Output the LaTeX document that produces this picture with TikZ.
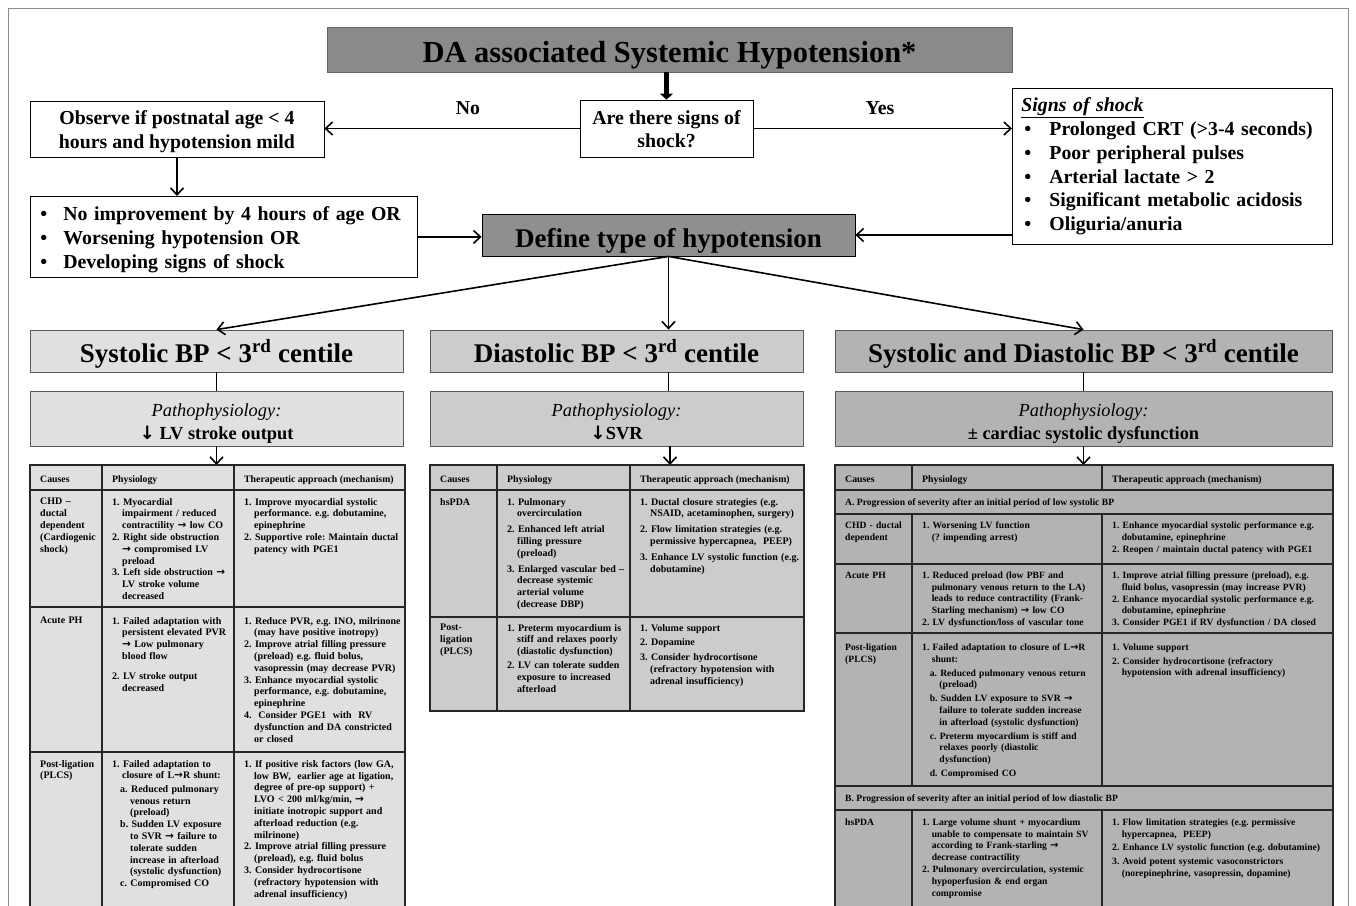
\documentclass[tikz,border=0pt]{standalone}
\usepackage{fontspec}
\setmainfont{Liberation Serif}
\newfontfamily\arrfont{DejaVu Sans}
\usetikzlibrary{arrows.meta}
\frenchspacing
\definecolor{titlegray}{HTML}{8A8A8A}
\definecolor{defgray}{HTML}{8F8F8F}
\definecolor{cA}{HTML}{E0E0E0}
\definecolor{cB}{HTML}{CCCCCC}
\definecolor{cC}{HTML}{B3B3B3}
\newcommand{\NL}{\unskip\hfil\break}
\newcommand{\ra}{{\arrfont\bfseries\fontsize{1.05em}{0pt}\selectfont →}}
\newcommand{\da}{{\arrfont\bfseries ↓}}
\newcommand{\Lf}{\noindent\leftskip=0pt\hangindent=1em\hangafter=1\ignorespaces}
\newcommand{\Li}[1][0pt]{\par\ifdim#1>0pt\vspace{#1}\fi\noindent\leftskip=0pt\hangindent=1em\hangafter=1\ignorespaces}
\newcommand{\Lii}[1][0pt]{\par\ifdim#1>0pt\vspace{#1}\fi\noindent\leftskip=0.8em\hangindent=1em\hangafter=1\ignorespaces}
\begin{document}
\begin{tikzpicture}[x=1pt,y=-1pt,
  tb/.style={draw=black, line width=0.8pt, fill=white, align=center, inner sep=0pt, font=\fontsize{19.8}{23.7}\selectfont\bfseries\frenchspacing},
  hb/.style={draw=black!65, line width=0.8pt, align=center, inner sep=0pt, minimum height=42, text height=28pt, text depth=6pt, font=\fontsize{27}{30}\selectfont\bfseries},
  pb/.style={draw=black!65, line width=0.8pt, align=center, inner sep=0pt, minimum height=55, font=\fontsize{18.4}{23}\selectfont\bfseries},
  lbl/.style={inner sep=0pt, font=\fontsize{19.8}{23.7}\selectfont\bfseries},
  arr/.style={line width=1.6pt, -{Straight Barb[length=7pt,width=13pt]}},
  ln/.style={line width=1.6pt},
  tl/.style={line width=1.5pt, black!85},
  cellL/.style={anchor=north west, inner sep=0pt, text width=300pt, align=left, font=\fontsize{10}{11.8}\selectfont\bfseries\frenchspacing},
  cellR/.style={cellL, font=\fontsize{9.6}{11.8}\selectfont\bfseries\frenchspacing},
  cellH/.style={anchor=base west, inner sep=0pt, font=\fontsize{9.8}{11.8}\selectfont\bfseries},
  cellS/.style={anchor=base west, inner sep=0pt, font=\fontsize{9.6}{11.8}\selectfont\bfseries\frenchspacing},
]
\useasboundingbox (0,0) rectangle (1356,905);
\fill[white] (0,0) rectangle (1356,905);
% outer frame
\draw[black!45, line width=0.8pt] (8,920) -- (8,8) -- (1348,8) -- (1348,920);

% ---------- top flow ----------
\node[tb, fill=titlegray, draw=black!60, minimum width=685, minimum height=45, text height=32pt, text depth=7pt, font=\fontsize{30.5}{34}\selectfont\bfseries] (title) at (669.5,49.5) {DA associated Systemic Hypotension*};
\node[tb, minimum width=173, minimum height=57] (q) at (666.5,128.5) {\rule{0pt}{15.5pt}Are there signs of\\shock?};
\node[tb, minimum width=294, minimum height=56] (obs) at (177,129) {\rule{0pt}{19.5pt}Observe if postnatal age < 4\\hours and hypotension mild};
\node[tb, anchor=north west, align=left, text width=302, inner xsep=9pt, minimum height=156] (signs) at (1012,88)
  {\underline{\textit{Signs of shock}}\\
   \hspace*{3pt}\makebox[25pt][l]{•}Prolonged CRT (>3-4 seconds)\\
   \hspace*{3pt}\makebox[25pt][l]{•}Poor peripheral pulses\\
   \hspace*{3pt}\makebox[25pt][l]{•}Arterial lactate > 2\\
   \hspace*{3pt}\makebox[25pt][l]{•}Significant metabolic acidosis\\
   \hspace*{3pt}\makebox[25pt][l]{•}Oliguria/anuria};
\node[tb, anchor=north west, align=left, text width=369, inner xsep=9pt, minimum height=81] (bul) at (30,196)
  {\rule{0pt}{19.5pt}\hspace*{1pt}\makebox[23pt][l]{•}No improvement by 4 hours of age OR\\
   \hspace*{1pt}\makebox[23pt][l]{•}Worsening hypotension OR\\
   \hspace*{1pt}\makebox[23pt][l]{•}Developing signs of shock};
\node[tb, fill=defgray, minimum width=373, minimum height=42, text height=30pt, text depth=6pt, font=\fontsize{27}{30}\selectfont\bfseries] (def) at (668.5,235) {Define type of hypotension};

\node[lbl] (no) at (468,108) {No};
\node[lbl] (yes) at (880,108) {Yes};

\draw[line width=5pt, -{Triangle[length=6pt,width=13pt]}] (q.north |- title.south) -- (q.north);
\draw[arr] (q.west) -- (q.west -| obs.east);
\draw[arr] (q.east) -- (q.east -| signs.west);
\draw[arr] (obs.south) -- (obs.south |- bul.north);
\draw[arr] (bul.east) -- (bul.east -| def.west);
\draw[arr] (signs.west |- def.east) -- (def.east);

% ---------- column headers ----------
\node[hb, fill=cA, minimum width=373] (h1) at (216.5,351) {Systolic BP < 3\textsuperscript{rd} centile};
\node[hb, fill=cB, minimum width=373] (h2) at (616.5,351) {Diastolic BP < 3\textsuperscript{rd} centile};
\node[hb, fill=cC, minimum width=497] (h3) at (1083.5,351) {Systolic and Diastolic BP < 3\textsuperscript{rd} centile};

\node[pb, fill=cA, minimum width=373] (p1) at (216.5,418.5) {\rule{0pt}{22pt}{\mdseries\itshape Pathophysiology:}\\\da\ LV stroke output\vphantom{y}};
\node[pb, fill=cB, minimum width=373] (p2) at (616.5,418.5) {\rule{0pt}{22pt}{\mdseries\itshape Pathophysiology:}\\\da SVR\vphantom{y}};
\node[pb, fill=cC, minimum width=497] (p3) at (1083.5,418.5) {\rule{0pt}{22pt}{\mdseries\itshape Pathophysiology:}\\± cardiac systolic dysfunction\vphantom{y}};

\draw[arr] (def.south) -- (h1.north);
\draw[arr] (def.south) -- (def.south |- h2.north);
\draw[arr] (def.south) -- (h3.north);
\draw[ln] (h1.south) -- (p1.north);
\draw[ln] (def.south |- h2.south) -- (def.south |- p2.north);
\draw[ln] (h3.south) -- (p3.north);

\coordinate (t1) at (216.5,465);
\coordinate (t2) at (670,465);
\coordinate (t3) at (1083.5,465);
\draw[arr] (p1.south) -- (t1);
\draw[arr] (p2.south -| t2) -- (t2);
\draw[arr] (p3.south) -- (t3);

% ---------- left table ----------
\fill[cA] (30,465) rectangle (405,920);
\draw[tl] (30,920) -- (30,465) -- (405,465) -- (405,920);
\draw[tl] (30,490) -- (405,490);
\draw[tl] (30,607) -- (405,607);
\draw[tl] (30,752) -- (405,752);
\draw[tl] (102,465) -- (102,920);
\draw[tl] (234,465) -- (234,920);

\node[cellH] (l0c) at (40,482) {Causes};
\node[cellH] (l0p) at (112,482) {Physiology};
\node[cellH] (l0t) at (244,482) {Therapeutic approach (mechanism)};

\node[cellL] (l1c) at (40,498) {CHD –\NL ductal\NL dependent\NL (Cardiogenic\NL shock)};
\node[cellL] (l1p) at (112,498) {\Lf 1. Myocardial\NL impairment / reduced\NL contractility \ra\ low CO
 \Li 2. Right side obstruction\NL \ra\ compromised LV\NL preload
 \Li 3. Left side obstruction \ra\NL LV stroke volume\NL decreased\par};
\node[cellL] (l1t) at (244,498) {\Lf 1. Improve myocardial systolic\NL performance. e.g. dobutamine,\NL epinephrine
 \Li 2. Supportive role: Maintain ductal\NL patency with PGE1\par};

\node[cellL] (l2c) at (40,617) {Acute PH};
\node[cellL] (l2p) at (112,617) {\Lf 1. Failed adaptation with\NL persistent elevated PVR\NL \ra\ Low pulmonary\NL blood flow
 \Li[8.5pt] 2. LV stroke output\NL decreased\par};
\node[cellL] (l2t) at (244,617) {\Lf 1. Reduce PVR, e.g. INO, milrinone\NL (may have positive inotropy)
 \Li 2. Improve atrial filling pressure\NL (preload) e.g. fluid bolus,\NL vasopressin (may decrease PVR)
 \Li 3. Enhance myocardial systolic\NL performance, e.g. dobutamine,\NL epinephrine
 \Li 4.\ \ Consider PGE1\ \ with\ \ RV\NL dysfunction and DA constricted\NL or closed\par};

\node[cellL] (l3c) at (40,760) {Post-ligation\NL (PLCS)};
\node[cellL] (l3p) at (112,760) {\Lf 1. Failed adaptation to\NL closure of L\ra R shunt:
 \Lii[1.5pt] a. Reduced pulmonary\NL venous return\NL (preload)
 \Lii b. Sudden LV exposure\NL to SVR \ra\ failure to\NL tolerate sudden\NL increase in afterload\NL (systolic dysfunction)
 \Lii c. Compromised CO\par};
\node[cellL] (l3t) at (244,760) {\Lf 1. If positive risk factors (low GA,\NL low BW,\ \ earlier age at ligation,\NL degree of pre-op support) +\NL LVO < 200 ml/kg/min, \ra\NL initiate inotropic support and\NL afterload reduction (e.g.\NL milrinone)
 \Li 2. Improve atrial filling pressure\NL (preload), e.g. fluid bolus
 \Li 3. Consider hydrocortisone\NL (refractory hypotension with\NL adrenal insufficiency)\par};

% ---------- middle table ----------
\fill[cB] (430,465) rectangle (804,711);
\draw[tl] (430,465) rectangle (804,711);
\draw[tl] (430,490) -- (804,490);
\draw[tl] (430,617) -- (804,617);
\draw[tl] (497,465) -- (497,711);
\draw[tl] (630,465) -- (630,711);

\node[cellH] (m0c) at (440,482) {Causes};
\node[cellH] (m0p) at (507,482) {Physiology};
\node[cellH] (m0t) at (640,482) {Therapeutic approach (mechanism)};

\node[cellL] (m1c) at (440,498) {hsPDA};
\node[cellL] (m1p) at (507,498) {\Lf 1. Pulmonary\NL overcirculation
 \Li[4pt] 2. Enhanced left atrial\NL filling pressure\NL (preload)
 \Li[4pt] 3. Enlarged vascular bed –\NL decrease systemic\NL arterial volume\NL (decrease DBP)\par};
\node[cellL] (m1t) at (640,498) {\Lf 1. Ductal closure strategies (e.g.\NL NSAID, acetaminophen, surgery)
 \Li[4pt] 2. Flow limitation strategies (e.g.\NL permissive hypercapnea,\ \ PEEP)
 \Li[4pt] 3. Enhance LV systolic function (e.g.\NL dobutamine)\par};

\node[cellL] (m2c) at (440,624) {Post-\NL ligation\NL (PLCS)};
\node[cellL] (m2p) at (507,624) {\Lf 1. Preterm myocardium is\NL stiff and relaxes poorly\NL (diastolic dysfunction)
 \Li[2pt] 2. LV can tolerate sudden\NL exposure to increased\NL afterload\par};
\node[cellL] (m2t) at (640,624) {\Lf 1. Volume support
 \Li[3pt] 2. Dopamine
 \Li[3pt] 3. Consider hydrocortisone\NL (refractory hypotension with\NL adrenal insufficiency)\par};

% ---------- right table ----------
\fill[cC] (835,465) rectangle (1333,920);
\draw[tl] (835,920) -- (835,465) -- (1333,465) -- (1333,920);
\foreach \yy in {490,514,564,633,786,810} \draw[tl] (835,\yy) -- (1333,\yy);
\foreach \xx in {912,1102} {
  \draw[tl] (\xx,465) -- (\xx,490);
  \draw[tl] (\xx,514) -- (\xx,786);
  \draw[tl] (\xx,810) -- (\xx,920);
}

\node[cellH] (r0c) at (845,482) {Causes};
\node[cellH] (r0p) at (922,482) {Physiology};
\node[cellH] (r0t) at (1112,482) {Therapeutic approach (mechanism)};

\node[cellS] (rA) at (845,505.5) {A. Progression of severity after an initial period of low systolic BP};

\node[cellR] (r1c) at (845,521.5) {CHD - ductal\NL dependent};
\node[cellR] (r1p) at (922,521.5) {\Lf 1. Worsening LV function\NL (? impending arrest)\par};
\node[cellR] (r1t) at (1112,521.5) {\Lf 1. Enhance myocardial systolic performance e.g.\NL dobutamine, epinephrine
 \Li 2. Reopen / maintain ductal patency with PGE1\par};

\node[cellR] (r2c) at (845,571.5) {Acute PH};
\node[cellR] (r2p) at (922,571.5) {\Lf 1. Reduced preload (low PBF and\NL pulmonary venous return to the LA)\NL leads to reduce contractility (Frank-\NL Starling mechanism) \ra\ low CO
 \Li 2. LV dysfunction/loss of vascular tone\par};
\node[cellR] (r2t) at (1112,571.5) {\Lf 1. Improve atrial filling pressure (preload), e.g.\NL fluid bolus, vasopressin (may increase PVR)
 \Li 2. Enhance myocardial systolic performance e.g.\NL dobutamine, epinephrine
 \Li 3. Consider PGE1 if RV dysfunction / DA closed\par};

\node[cellR] (r3c) at (845,643.5) {Post-ligation\NL (PLCS)};
\node[cellR] (r3p) at (922,643.5) {\Lf 1. Failed adaptation to closure of L\ra R\NL shunt:
 \Lii[2pt] a. Reduced pulmonary venous return\NL (preload)
 \Lii[2pt] b. Sudden LV exposure to SVR \ra\NL failure to tolerate sudden increase\NL in afterload (systolic dysfunction)
 \Lii[2pt] c. Preterm myocardium is stiff and\NL relaxes poorly (diastolic\NL dysfunction)
 \Lii[2pt] d. Compromised CO\par};
\node[cellR] (r3t) at (1112,643.5) {\Lf 1. Volume support
 \Li[2pt] 2. Consider hydrocortisone (refractory\NL hypotension with adrenal insufficiency)\par};

\node[cellS] (rB) at (845,801.5) {B. Progression of severity after an initial period of low diastolic BP};

\node[cellR] (r4c) at (845,818.5) {hsPDA};
\node[cellR] (r4p) at (922,818.5) {\Lf 1. Large volume shunt + myocardium\NL unable to compensate to maintain SV\NL according to Frank-starling \ra\NL decrease contractility
 \Li 2. Pulmonary overcirculation, systemic\NL hypoperfusion \& end organ\NL compromise\par};
\node[cellR] (r4t) at (1112,818.5) {\Lf 1. Flow limitation strategies (e.g. permissive\NL hypercapnea,\ \ PEEP)
 \Li[2pt] 2. Enhance LV systolic function (e.g. dobutamine)
 \Li[2pt] 3. Avoid potent systemic vasoconstrictors\NL (norepinephrine, vasopressin, dopamine)\par};
\end{tikzpicture}
\end{document}
